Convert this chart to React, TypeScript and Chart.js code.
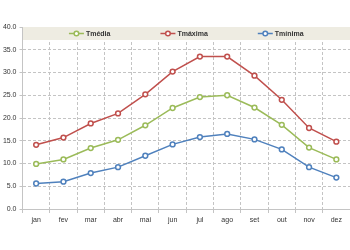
import React, { useEffect, useRef } from "react";
import { Chart, registerables } from "chart.js";

Chart.register(...registerables);

const months = ["jan", "fev", "mar", "abr", "mai", "jun", "jul", "ago", "set", "out", "nov", "dez"];
const tMedia = [9.9, 10.9, 13.4, 15.2, 18.4, 22.2, 24.6, 25.0, 22.3, 18.5, 13.5, 10.9];
const tMaxima = [14.1, 15.7, 18.8, 21.0, 25.2, 30.2, 33.5, 33.5, 29.3, 24.0, 17.8, 14.8];
const tMinima = [5.6, 6.0, 7.9, 9.2, 11.7, 14.2, 15.8, 16.5, 15.3, 13.1, 9.2, 6.9];
const seriesNames = ["Tmédia", "Tmáxima", "Tmínima"];
const seriesColors = ["#9BBB59", "#C0504D", "#4F81BD"];

const FONT = "'Liberation Sans', Arial, sans-serif";

const legendBand = {
  id: "legendBand",
  afterDraw(chart: any) {
    const { ctx, chartArea } = chart;
    const bandH = 13;
    ctx.save();
    ctx.fillStyle = "#EEECE2";
    ctx.fillRect(chartArea.left + 0.5, chartArea.top, chartArea.right - chartArea.left - 0.5, bandH);
    ctx.font = `bold 7px ${FONT}`;
    ctx.textBaseline = "middle";
    const lineW = 15;
    const gapText = 2;
    const gap = 50;
    const items = chart.data.datasets.map((ds: any) => ({
      label: ds.label,
      color: ds.borderColor,
      w: lineW + gapText + ctx.measureText(ds.label).width,
    }));
    const total = items.reduce((s: number, it: any) => s + it.w, 0) + gap * (items.length - 1);
    let x = (chartArea.left + chartArea.right) / 2 - total / 2;
    const y = chartArea.top + bandH / 2;
    items.forEach((it: any) => {
      ctx.strokeStyle = it.color;
      ctx.lineWidth = 1.5;
      ctx.beginPath();
      ctx.moveTo(x, y);
      ctx.lineTo(x + lineW, y);
      ctx.stroke();
      ctx.beginPath();
      ctx.arc(x + lineW / 2, y, 2.3, 0, Math.PI * 2);
      ctx.fillStyle = "#ffffff";
      ctx.fill();
      ctx.stroke();
      ctx.fillStyle = "#333333";
      ctx.textAlign = "left";
      ctx.fillText(it.label, x + lineW + gapText, y + 0.5);
      x += it.w + gap;
    });
    ctx.restore();
  },
};

const noPad = () => ({ left: 0, right: 0, top: 0, bottom: 0 });

export default function App() {
  const ref = useRef<HTMLCanvasElement>(null);
  useEffect(() => {
    if (!ref.current) return;
    const data = [tMedia, tMaxima, tMinima];
    const chart = new Chart(ref.current, {
      type: "line",
      data: {
        labels: months,
        datasets: data.map((d, i) => ({
          label: seriesNames[i],
          data: d,
          borderColor: seriesColors[i],
          backgroundColor: "#ffffff",
          pointBackgroundColor: "#ffffff",
          pointBorderColor: seriesColors[i],
          pointRadius: 2.4,
          pointBorderWidth: 1.5,
          borderWidth: 1.5,
          tension: 0,
          clip: false,
        })),
      },
      options: {
        animation: false,
        responsive: false,
        devicePixelRatio: 1,
        layout: { autoPadding: false, padding: { top: 27, right: 0, left: 0, bottom: 0 } },
        plugins: {
          legend: { display: false },
          tooltip: { enabled: false },
        },
        scales: {
          x: {
            offset: true,
            grid: {
              offset: true,
              color: "#C4C4C4",
              tickLength: 4,
              lineWidth: 1,
            },
            border: { color: "#C4C4C4", dash: [3, 2] },
            ticks: {
              color: "#333333",
              font: { family: FONT, size: 7 },
              padding: 3,
              maxRotation: 0,
              autoSkip: false,
            },
            afterFit: (scale: any) => {
              scale.height = 41;
              scale.paddingLeft = 0;
              scale.paddingRight = 0;
              scale.getPadding = noPad;
            },
          },
          y: {
            min: 0,
            max: 40,
            grid: {
              color: "#C4C4C4",
              tickLength: 3,
            },
            border: { color: "#C4C4C4", dash: [3, 2] },
            ticks: {
              stepSize: 5,
              color: "#333333",
              font: { family: FONT, size: 7 },
              padding: 3,
              callback: (v: any) => Number(v).toFixed(1),
            },
            afterFit: (scale: any) => {
              scale.width = 22.5;
              scale.getPadding = noPad;
            },
          },
        },
      },
      plugins: [legendBand],
    });
    return () => chart.destroy();
  }, []);
  return (
    <div style={{ position: "fixed", left: 0, top: 0, width: 350, height: 250, background: "#fff" }}>
      <canvas ref={ref} width={350} height={250} style={{ width: 350, height: 250 }} />
    </div>
  );
}
